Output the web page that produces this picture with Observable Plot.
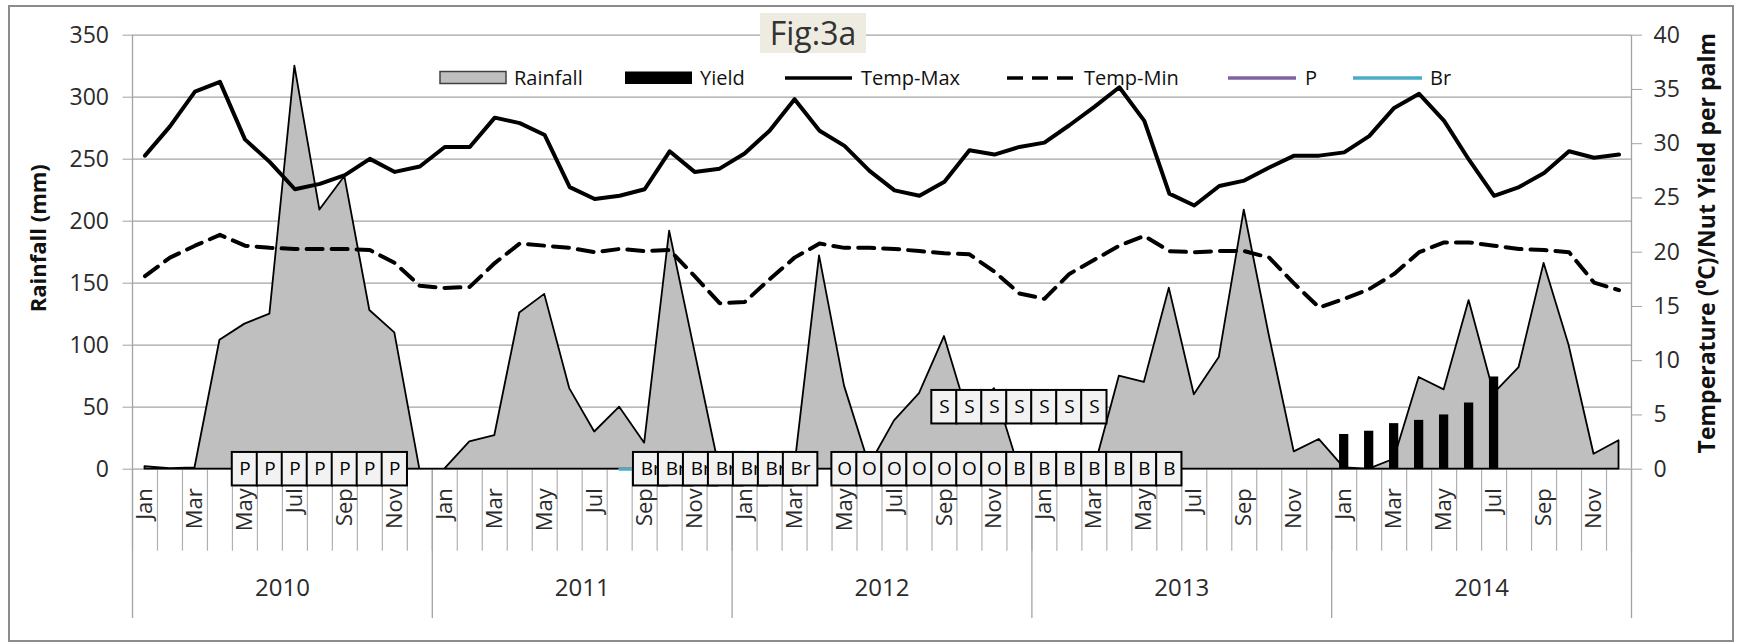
<!DOCTYPE html>
<html>
<head>
<meta charset="utf-8">
<script src="https://cdn.jsdelivr.net/npm/d3@7"></script>
<script src="https://cdn.jsdelivr.net/npm/@observablehq/plot@0.6"></script>
<style>
  body { margin: 0; background: #fff; }
  #wrap { position: relative; width: 1737px; height: 642px; font-family: "Open Sans", sans-serif; overflow: hidden; }
  #wrap svg { position: absolute; left: 0; top: 0; }
  .ov { position: absolute; pointer-events: none; }
  #border { left: 8px; top: 5px; width: 1722px; height: 633px; border: 2px solid #8c8c8c; }
  #fig { left: 760px; top: 13px; width: 106px; height: 40px; background: #eeece1; color: #333; font-size: 32px; line-height: 40px; text-align: center; }
  .lgt { position: absolute; font-size: 20px; line-height: 28px; top: 64px; color: #111; white-space: nowrap; }
</style>
</head>
<body>
<div id="wrap"></div>
<script>
// ---------- data ----------
const months = ["Jan","Feb","Mar","Apr","May","Jun","Jul","Aug","Sep","Oct","Nov","Dec"];
const years = [2010, 2011, 2012, 2013, 2014];

// Rainfall (mm), Jan 2010 .. Dec 2014
const rainfall = [
  2, 0.5, 1, 104, 117, 125, 325, 209, 236, 128, 110, 0,
  0, 22, 27, 126, 141, 65, 30, 50, 21, 192, 96, 0,
  0, 0, 0, 172, 67, 3, 39, 61, 107, 40, 65, 0,
  0, 0, 0, 75, 70, 146, 60, 90, 209, 108, 14, 24,
  1, 0, 8, 74, 64, 136, 61, 82, 166, 100, 12, 23
];
// Temp-Max (°C)
const tempMax = [
  28.9, 31.6, 34.8, 35.7, 30.4, 28.3, 25.8, 26.3, 27.1, 28.6, 27.4, 27.9,
  29.7, 29.7, 32.4, 31.9, 30.8, 26.0, 24.9, 25.2, 25.8, 29.3, 27.4, 27.7,
  29.1, 31.2, 34.1, 31.2, 29.8, 27.5, 25.7, 25.2, 26.5, 29.4, 29.0, 29.7,
  30.1, 31.7, 33.4, 35.2, 32.1, 25.4, 24.3, 26.1, 26.6, 27.8, 28.9, 28.9,
  29.2, 30.7, 33.3, 34.6, 32.1, 28.5, 25.2, 26.0, 27.3, 29.3, 28.7, 29.0
];
// Temp-Min (°C)
const tempMin = [
  17.8, 19.5, 20.6, 21.6, 20.6, 20.4, 20.3, 20.3, 20.3, 20.2, 19.0, 16.9,
  16.7, 16.8, 19.0, 20.8, 20.6, 20.4, 20.0, 20.3, 20.1, 20.2, 17.8, 15.3,
  15.4, 17.5, 19.5, 20.8, 20.4, 20.4, 20.3, 20.1, 19.9, 19.8, 18.2, 16.2,
  15.7, 18.0, 19.3, 20.6, 21.5, 20.1, 20.0, 20.1, 20.1, 19.5, 17.1, 14.9,
  15.7, 16.6, 18.0, 20.0, 20.9, 20.9, 20.6, 20.3, 20.2, 20.0, 17.2, 16.5
];
// Nut yield per palm
const yieldMonths = ["2014-01","2014-02","2014-03","2014-04","2014-05","2014-06","2014-07"];
const yieldValues = [3.2, 3.5, 4.2, 4.5, 5.0, 6.1, 8.5];

// Stage labels
const pMonths  = ["2010-05","2010-06","2010-07","2010-08","2010-09","2010-10","2010-11"];
const brLine   = ["2011-08","2011-09","2011-10","2011-11","2011-12","2012-01","2012-02","2012-03"];
const brMonths = ["2011-09","2011-10","2011-11","2011-12","2012-01","2012-02","2012-03"];
const oMonths  = ["2012-05","2012-06","2012-07","2012-08","2012-09","2012-10","2012-11"];
const bMonths  = ["2012-12","2013-01","2013-02","2013-03","2013-04","2013-05","2013-06"];
const sMonths  = ["2012-09","2012-10","2012-11","2012-12","2013-01","2013-02","2013-03"];
const sLevel = 50;   // mm, level of the S labels
const stageLevel = 0;

// ---------- layout ----------
const W = 1737, H = 642, mL = 132, mR = 106, mT = 34.7, mB = 173.3;
const pxPerMonth = (W - mL - mR) / 60;
const pxPerMm = (H - mT - mB) / 350;
const K = 350 / 40; // temperature/yield -> left axis units

const idx = key => { const [y, m] = key.split("-").map(Number); return (y - years[0]) * 12 + m - 1; };

const table = rainfall.map((r, i) => ({i, rain: r, tmax: tempMax[i] * K, tmin: tempMin[i] * K}));
const yieldData = yieldMonths.map((m, j) => ({i: idx(m), v: yieldValues[j] * K}));

const BOX_H = 33.5, BOX_W = 25.3, BR_L = 11.2, BR_R = 23.3;
const mk = (arr, label, level, l, r) => arr.map(m => ({i: idx(m), label, level, l, r}));
const boxes = [
  ...mk(pMonths, "P", stageLevel, BOX_W/2, BOX_W/2),
  ...mk(brMonths, "Br", stageLevel, BR_L, BR_R),
  ...mk(oMonths, "O", stageLevel, BOX_W/2, BOX_W/2),
  ...mk(bMonths, "B", stageLevel, BOX_W/2, BOX_W/2),
  ...mk(sMonths, "S", sLevel, BOX_W/2, BOX_W/2)
].map(d => ({
  ...d,
  x1: d.i - d.l / pxPerMonth, x2: d.i + d.r / pxPerMonth,
  y1: d.level - BOX_H / 2 / pxPerMm, y2: d.level + BOX_H / 2 / pxPerMm
}));

const boxMarks = boxes.flatMap(d => [
  Plot.rect([d], {x1: "x1", x2: "x2", y1: "y1", y2: "y2", fill: "#f2f2f2", stroke: "black", strokeWidth: 2}),
  Plot.text([d], {x: b => (b.x1 + b.x2) / 2, y: "level", text: "label", fontSize: 19, fill: "black"})
]);

const monthBounds = d3.range(-0.5, 60, 1);
const yearBounds = d3.range(-0.5, 61, 12);
const yearCenters = years.map((y, j) => j * 12 + 5.5);

const chart = Plot.plot({
  width: W, height: H,
  marginLeft: mL, marginRight: mR, marginTop: mT, marginBottom: mB,
  x: {type: "linear", domain: [-0.5, 59.5]},
  y: {type: "linear", domain: [0, 350]},
  style: {fontFamily: "'Open Sans', sans-serif", background: "white", overflow: "visible"},
  marks: [
    Plot.ruleY(d3.range(0, 351, 50), {stroke: "#a3a3a3", strokeWidth: 1.3}),
    Plot.ruleX([-0.5, 59.5], {stroke: "#a3a3a3", strokeWidth: 1.3}),
    Plot.axisY(d3.range(0, 351, 50), {anchor: "left", tickSize: 9.5, tickPadding: 14, fontSize: 23, label: null, stroke: "#a3a3a3", fill: "#2b2b2b"}),
    Plot.axisY(d3.range(0, 41, 5).map(v => v * K), {anchor: "right", tickSize: 10, tickPadding: 12, fontSize: 23, label: null, stroke: "#a3a3a3", fill: "#2b2b2b", tickFormat: d => String(Math.round(d / K))}),
    Plot.axisX(monthBounds, {anchor: "bottom", tickSize: 82, tickFormat: () => "", label: null, stroke: "#b0b0b0", strokeWidth: 1.2}),
    Plot.axisX(yearBounds, {anchor: "bottom", tickSize: 149.3, tickFormat: () => "", label: null, stroke: "#a3a3a3", strokeWidth: 1.3}),
    Plot.axisX(d3.range(0, 60, 2), {anchor: "bottom", tickSize: 0, tickPadding: 19, tickRotate: -90, fontSize: 22, label: null, fill: "#2b2b2b", tickFormat: i => months[i % 12]}),
    Plot.axisX(yearCenters, {anchor: "bottom", tickSize: 0, tickPadding: 110, fontSize: 24, label: null, fill: "#2b2b2b", tickFormat: d => String(years[Math.floor(d / 12)])}),
    Plot.areaY(table, {x: "i", y: "rain", fill: "#bfbfbf", stroke: "black", strokeWidth: 1.8}),
    Plot.rectY(yieldData, {x1: d => d.i - 0.185, x2: d => d.i + 0.185, y: "v", fill: "black"}),
    Plot.lineY(table, {x: "i", y: "tmax", stroke: "black", strokeWidth: 4, strokeLinejoin: "round"}),
    Plot.lineY(table, {x: "i", y: "tmin", stroke: "black", strokeWidth: 4, strokeDasharray: "16,9"}),
    Plot.lineY(pMonths.map(m => ({i: idx(m), v: stageLevel})), {x: "i", y: "v", stroke: "#8064a2", strokeWidth: 3}),
    Plot.lineY(brLine.map(m => ({i: idx(m), v: stageLevel})), {x: "i", y: "v", stroke: "#4bacc6", strokeWidth: 3}),
    ...boxMarks,
    Plot.text(["Rainfall (mm)"], {text: d => d, frameAnchor: "left", textAnchor: "middle", dx: -94, dy: -14, rotate: -90, fontSize: 22, fontWeight: "bold", fill: "#111"}),
    Plot.text(["Temperature (\u2070C)/Nut Yield per palm"], {text: d => d, frameAnchor: "right", textAnchor: "middle", dx: 76, dy: -9, rotate: -90, fontSize: 23, fontWeight: "bold", fill: "#111"})
  ]
});

const wrap = document.getElementById("wrap");
wrap.appendChild(chart);

// overlays: border, figure tag, legend
const add = (html) => wrap.insertAdjacentHTML("beforeend", html);
add('<div class="ov" id="border"></div>');
add('<div class="ov" id="fig">Fig:3a</div>');
const legendItems = [
  {name: "Rainfall", kind: "area", x0: 440, x1: 506, tx: 514},
  {name: "Yield", kind: "bar", x0: 625, x1: 692, tx: 700},
  {name: "Temp-Max", kind: "line", x0: 785, x1: 852, tx: 861, color: "black"},
  {name: "Temp-Min", kind: "dash", x0: 1007, x1: 1076, tx: 1084, color: "black"},
  {name: "P", kind: "line", x0: 1228, x1: 1296, tx: 1305, color: "#8064a2"},
  {name: "Br", kind: "line", x0: 1353, x1: 1422, tx: 1430, color: "#4bacc6"}
];
let svgL = '<svg class="ov" style="left:0;top:0" width="1737" height="120">';
for (const it of legendItems) {
  if (it.kind === "area") svgL += `<rect x="${it.x0}" y="71.5" width="${it.x1 - it.x0}" height="12" fill="#bfbfbf" stroke="#404040" stroke-width="1.5"/>`;
  else if (it.kind === "bar") svgL += `<rect x="${it.x0}" y="71.5" width="${it.x1 - it.x0}" height="12.5" fill="black"/>`;
  else svgL += `<line x1="${it.x0}" x2="${it.x1}" y1="78" y2="78" stroke="${it.color}" stroke-width="3.5" ${it.kind === "dash" ? 'stroke-dasharray="16,9"' : ''}/>`;
}
svgL += '</svg>';
add(svgL);
for (const it of legendItems) add(`<div class="lgt" style="left:${it.tx}px">${it.name}</div>`);
</script>
</body>
</html>
